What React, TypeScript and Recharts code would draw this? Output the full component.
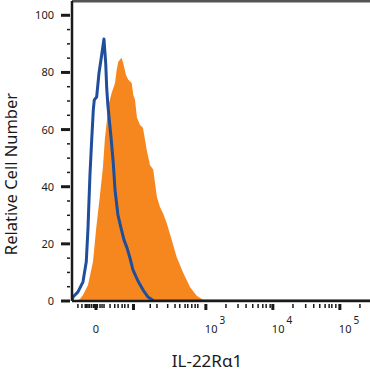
import React from "react";
import { ComposedChart, Area, Line, XAxis, YAxis, ReferenceLine, Label } from "recharts";

// x is in logicle display units: 0 = zero, one unit = one decade
const stainedPos = [
  -0.299, -0.239, -0.194, -0.119, -0.045, 0.004, 0.055, 0.104, 0.134, 0.164, 0.194, 0.234, 0.284,
  0.309, 0.333, 0.381, 0.407, 0.448, 0.482, 0.533, 0.557, 0.582, 0.612, 0.657, 0.701, 0.757, 0.806,
  0.855, 0.881, 0.91, 0.955, 1.004, 1.055, 1.13, 1.204, 1.303, 1.403, 1.503, 1.597, 1.672,
];
const stainedCount = [
  0, 0.7, 2.1, 5.6, 13.7, 25.6, 36.1, 46.9, 57.1, 63.4, 69.3, 72.8, 76.3, 80.9, 83.7, 85.1, 83.3,
  79.1, 77.4, 76.3, 72.1, 70.4, 64.1, 61.6, 60.6, 52.9, 47.6, 45.9, 41.3, 36.4, 32.9, 30.5, 27.3,
  21.4, 15.4, 9.8, 4.9, 1.8, 0.4, 0,
];

const isotypePos = [
  -0.358, -0.343, -0.269, -0.194, -0.145, -0.119, -0.104, -0.09, -0.064, -0.04, -0.025, 0.01, 0.045,
  0.085, 0.119, 0.145, 0.16, 0.175, 0.194, 0.224, 0.258, 0.284, 0.328, 0.373, 0.418, 0.463, 0.507,
  0.552, 0.627, 0.701, 0.776, 0.866, 4.09,
];
const isotypeCount = [
  0, 1.4, 3.2, 6.7, 13.7, 25.6, 35.4, 44.1, 56.4, 66.9, 70.4, 71.4, 79.8, 86.1, 91.7, 83.3, 74.6,
  69.3, 64.4, 57.4, 48.3, 38.9, 30.1, 25.6, 21.4, 18.6, 15.1, 10.9, 7.0, 3.9, 1.4, 0, 0,
];

const xMinorTicks = [
  -0.27, -0.21, -0.16, -0.14, -0.12, -0.1, -0.07, -0.04, -0.02, 0.02, 0.06, 0.09, 0.12, 0.21, 0.28,
  0.33, 0.39, 0.43, 0.48, 0.81, 0.91, 1.07, 1.18, 1.25, 1.33, 1.37, 1.43, 1.48, 1.52, 1.94, 2.12,
  2.24, 2.34, 2.42, 2.49, 2.54, 2.6, 2.94, 3.13, 3.25, 3.34, 3.42, 3.48, 3.52, 3.58, 3.94,
];
const xMajorTicks = [0, 0.56, 1.64, 2.64, 3.64];
const xLabelPos = [0, 1.64, 2.64, 3.64];
const xLabelBase = ["0", "10", "10", "10"];
const xLabelExp = ["", "3", "4", "5"];

const yMajorTicks = [0, 20, 40, 60, 80, 100];
const yMinorTicks = [5, 10, 15, 25, 30, 35, 45, 50, 55, 65, 70, 75, 85, 90, 95];

const ORANGE = "#F6871F";
const BLUE = "#1F4E9B";
const INK = "#1a1a1a";
const FONT = "'Noto Sans', sans-serif";

const rows = [
  ...stainedPos.map((x, i) => ({ x, stained: stainedCount[i] })),
  ...isotypePos.map((x, i) => ({ x, isotype: isotypeCount[i] })),
].sort((a, b) => a.x - b.x);

function XTick(props: any) {
  const { x, y, payload } = props;
  const v = payload.value;
  const major = xMajorTicks.includes(v);
  const li = xLabelPos.indexOf(v);
  return (
    <g>
      <line x1={x} x2={x} y1={y + 1} y2={y + (major ? 7 : 5)} stroke={INK} strokeWidth={major ? 3 : 1.5} />
      {li >= 0 && xLabelExp[li] === "" && (
        <text x={x} y={y + 30} textAnchor="middle" fontSize={11} fontFamily={FONT} fill={INK}>
          {xLabelBase[li]}
        </text>
      )}
      {li >= 0 && xLabelExp[li] !== "" && (
        <text x={x - 1} y={y + 30} textAnchor="start" fontSize={11} fontFamily={FONT} fill={INK}>
          {xLabelBase[li]}
          <tspan dx={2} dy={-9} fontSize={10}>
            {xLabelExp[li]}
          </tspan>
        </text>
      )}
    </g>
  );
}

function YTick(props: any) {
  const { x, y, payload } = props;
  const v = payload.value;
  const major = yMajorTicks.includes(v);
  return (
    <g>
      <line x1={x - (major ? 9 : 3)} x2={x} y1={y} y2={y} stroke={INK} strokeWidth={major ? 3 : 1.5} />
      {major && (
        <text x={x - 16} y={y + 4} textAnchor="end" fontSize={11} fontFamily={FONT} fill={INK}>
          {v}
        </text>
      )}
    </g>
  );
}

export default function App() {
  return (
    <div style={{ position: "absolute", left: 0, top: 0, width: 370, height: 372, background: "#fff" }}>
      <ComposedChart width={370} height={372} data={rows} margin={{ top: 1, right: 0, bottom: 0, left: 0 }}>
        <XAxis
          type="number"
          dataKey="x"
          domain={[-0.358, 4.09]}
          allowDataOverflow
          ticks={[...xMinorTicks, ...xMajorTicks].sort((a, b) => a - b)}
          interval={0}
          tickSize={0}
          tickLine={false}
          tick={<XTick />}
          height={71}
          axisLine={{ stroke: INK, strokeWidth: 2.5 }}
        >
          <Label
            content={() => (
              <text x={207} y={367} textAnchor="middle" fontSize={17} fontFamily={FONT} fill={INK}>
                IL-22Rα1
              </text>
            )}
          />
        </XAxis>
        <YAxis
          type="number"
          domain={[0, 105]}
          allowDataOverflow
          ticks={[...yMinorTicks, ...yMajorTicks].sort((a, b) => a - b)}
          interval={0}
          tickSize={0}
          tickLine={false}
          tick={<YTick />}
          width={72}
          axisLine={{ stroke: INK, strokeWidth: 2.5 }}
        >
          <Label
            content={() => (
              <text
                x={17}
                y={174}
                transform="rotate(-90 17 174)"
                textAnchor="middle"
                fontSize={16.5}
                fontFamily={FONT}
                fill={INK}
              >
                Relative Cell Number
              </text>
            )}
          />
        </YAxis>
        <ReferenceLine y={105} stroke="#555" strokeWidth={3} />
        <Area
          dataKey="stained"
          type="linear"
          fill={ORANGE}
          fillOpacity={1}
          stroke="none"
          connectNulls
          isAnimationActive={false}
        />
        <Line
          dataKey="isotype"
          type="linear"
          stroke={BLUE}
          strokeWidth={3}
          dot={false}
          connectNulls
          strokeLinejoin="round"
          isAnimationActive={false}
        />
      </ComposedChart>
    </div>
  );
}
